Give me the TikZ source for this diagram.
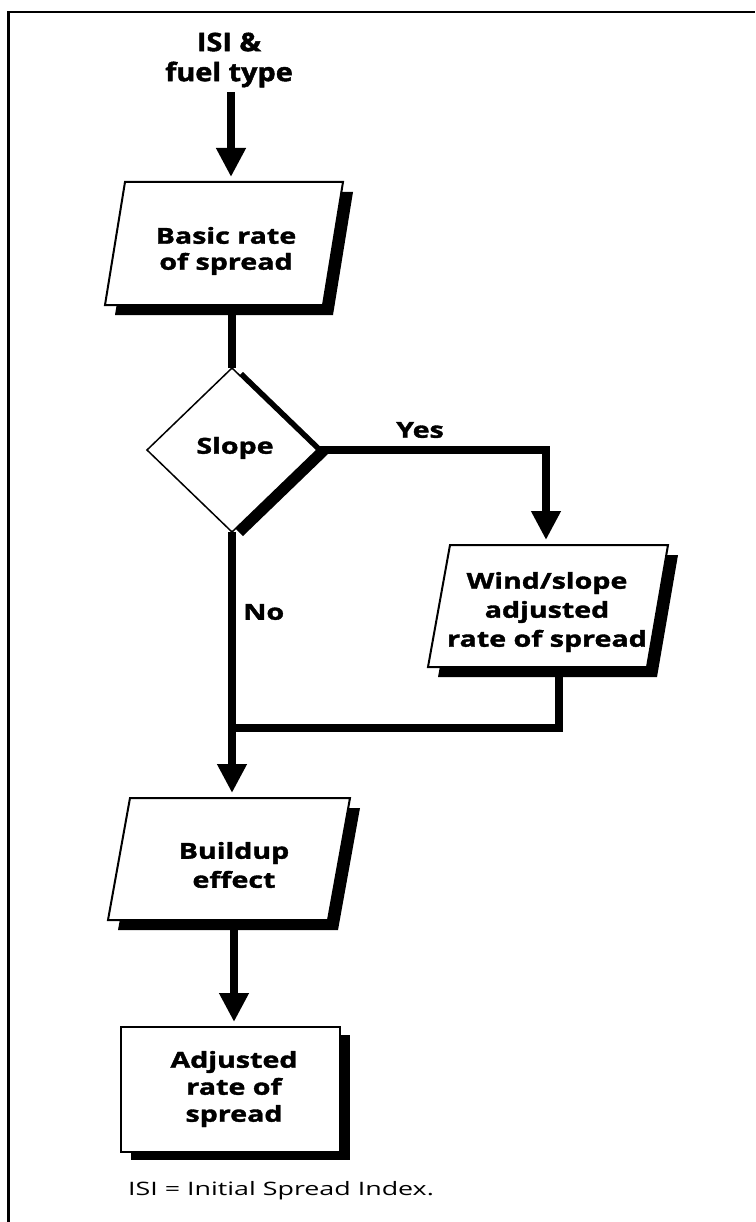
\documentclass[tikz,border=0pt]{standalone}
\usepackage{fontspec}
\setmainfont{Open Sans}
\newfontfamily\lblfont{Open Sans}[FakeStretch=1.3,BoldFeatures={FakeBold=1.6}]
\newfontfamily\ttlfont{Open Sans}[FakeStretch=1.13,BoldFeatures={FakeBold=1.8}]
\newfontfamily\notefnt{Open Sans}[FakeStretch=1.45]
\usetikzlibrary{arrows.meta}
\tikzset{
  wire/.style={line width=8pt},
  flow/.style={wire, -{Triangle[length=29pt,width=28pt]}, shorten >=5pt},
  boxline/.style={draw=black, line width=2pt, fill=white, line join=miter},
  shadowc/.style={fill=black},
  lbl/.style={font=\lblfont\bfseries\fontsize{22}{27}\selectfont, align=center, inner sep=0pt},
  ttl/.style={font=\ttlfont\bfseries\fontsize{25.5}{30}\selectfont, align=center, inner sep=0pt},
  notefont/.style={font=\notefnt\fontsize{18.5}{20}\selectfont, inner sep=0pt, anchor=west},
}
\begin{document}
\begin{tikzpicture}[x=1pt,y=-1pt]
\useasboundingbox (0,0) rectangle (755,1222);
% frame
\draw[line width=2.5pt] (8.5,1222) -- (8.5,12) -- (755,12);

% connector end points
\coordinate (b1in) at (231,182);
\coordinate (b1out) at (232,305);
\coordinate (dn) at (232,368);
\coordinate (de) at (317,450);
\coordinate (ds) at (232,532);
\coordinate (b2in) at (546,545);
\coordinate (b2out) at (559,667);
\coordinate (jn) at (232,728);
\coordinate (b3in) at (232,798);
\coordinate (b3out) at (234,920);
\coordinate (b4in) at (234,1027);

% title
\node[ttl] (title) at (229,60) {ISI \&\\fuel type};

% connectors
\draw[flow, shorten <=5pt] (title.south -| b1in) -- (b1in);
\draw[wire] (b1out) -- (dn);
\draw[flow] (de) -| (b2in);
\draw[flow] (ds) -- (b3in);
\draw[wire] (b2out) |- (jn);
\draw[flow] (b3out) -- (b4in);

% box 1
\fill[shadowc] (135,192) -- (353,192) -- (333,315) -- (115,315) -- cycle;
\draw[boxline] (125,182) -- (343,182) -- (323,305) -- (105,305) -- cycle;
% diamond
\fill[shadowc] (243,372) -- (328,454) -- (243,536) -- (158,454) -- cycle;
\draw[boxline, line width=1.5pt] (232,368) -- (317,450) -- (232,532) -- (147,450) -- cycle;
% box 2
\fill[shadowc] (460,555) -- (678,555) -- (657,677) -- (438,677) -- cycle;
\draw[boxline] (450,545) -- (668,545) -- (647,667) -- (428,667) -- cycle;
% box 3
\fill[shadowc] (140,808) -- (360,808) -- (338,930) -- (118,930) -- cycle;
\draw[boxline] (130,798) -- (350,798) -- (328,920) -- (108,920) -- cycle;
% box 4
\fill[shadowc] (131,1035) rectangle (350,1160);
\draw[boxline] (121,1027) rectangle (340,1152);

% texts
\node[lbl, font=\lblfont\bfseries\fontsize{22}{26}\selectfont] (b1) at (226,251) {Basic rate\\of spread};
\node[lbl] (slope) at (235,448) {Slope};
\node[lbl, font=\lblfont\bfseries\fontsize{22}{29}\selectfont] (b2) at (547,612) {Wind/slope\\adjusted\\rate of spread};
\node[lbl, font=\lblfont\bfseries\fontsize{22}{29}\selectfont] (b3) at (234,865) {Buildup\\effect};
\node[lbl] (b4) at (234,1089) {Adjusted\\rate of\\spread};
\node[lbl] (yes) at (420,430) {Yes};
\node[lbl, anchor=west] (no) at (243,612) {No};
\node[notefont] (fn) at (128,1191) {ISI = Initial Spread Index.};
\end{tikzpicture}
\end{document}
